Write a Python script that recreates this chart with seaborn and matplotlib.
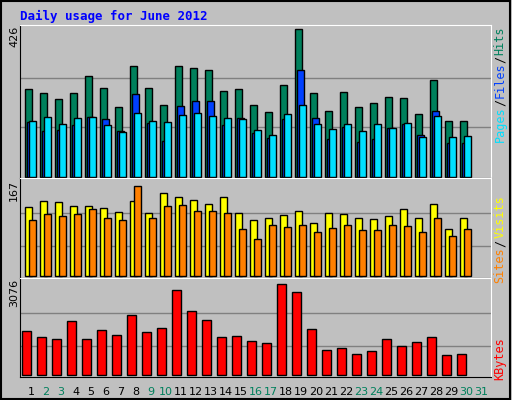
import numpy as np
import matplotlib
matplotlib.use("Agg")
import matplotlib.pyplot as plt
import seaborn as sns

days = list(range(1, 32))
hits = [253, 241, 224, 241, 291, 256, 201, 320, 256, 207, 320, 314, 308, 247, 253, 207,
        186, 265, 426, 241, 189, 244, 201, 213, 230, 227, 181, 279, 160, 160, 0]
files = [158, 131, 135, 150, 171, 166, 131, 239, 156, 102, 204, 218, 218, 150, 170, 127,
         111, 167, 308, 170, 108, 144, 99, 109, 141, 153, 120, 189, 97, 97, 0]
pages = [160, 172, 152, 169, 172, 149, 128, 184, 160, 157, 178, 184, 175, 169, 166, 134,
         120, 181, 207, 152, 137, 152, 131, 152, 140, 155, 114, 175, 114, 117, 0]
visits = [128, 139, 137, 130, 130, 126, 119, 139, 117, 154, 148, 141, 135, 148, 117, 104,
          108, 113, 122, 98, 117, 115, 108, 106, 111, 124, 108, 135, 87, 108, 0]
sites = [104, 115, 111, 115, 124, 109, 104, 167, 108, 130, 132, 121, 121, 117, 87, 69,
         95, 91, 95, 83, 89, 96, 85, 85, 95, 93, 82, 108, 74, 87, 0]
kbytes = [1488, 1285, 1217, 1826, 1217, 1521, 1352, 2029, 1454, 1589, 2874, 2164, 1860,
          1285, 1319, 1150, 1082, 3076, 2806, 1555, 845, 913, 710, 811, 1217, 980, 1116,
          1285, 676, 710, 0]
weekend = [2, 3, 9, 10, 16, 17, 23, 24, 30, 31]

sns.set_style("white")
mono = "DejaVu Sans Mono"
bg = "#c0c0c0"

fig = plt.figure(figsize=(5.12, 4.0), dpi=100, facecolor=bg)
fig.patches.append(plt.Rectangle((0.002, 0.003), 0.994, 0.994, transform=fig.transFigure,
                                 fill=False, edgecolor="black", linewidth=1.5))

L, W = 20 / 512, 471 / 512
ax1 = fig.add_axes([L, 1 - 178 / 400, W, 153 / 400])
ax2 = fig.add_axes([L, 1 - 278 / 400, W, 100 / 400])
ax3 = fig.add_axes([L, 1 - 377 / 400, W, 99 / 400])

x = np.array(days, dtype=float)
bw = 0.49
ec = dict(edgecolor="black", linewidth=1, align="edge")


def bars(ax, vals, off, color):
    # skip days with no data so no flat outline is drawn
    v = np.array(vals, dtype=float)
    m = v > 0
    ax.bar(x[m] + off, v[m], width=bw, color=color, **ec)


bars(ax1, hits, 0, "#00805c")
bars(ax1, files, 0.13, "#0040ff")
bars(ax1, pages, 0.27, "#00e0ff")
ax1.set_ylim(-3.7, 437.5)
for g in (142, 284):
    ax1.axhline(g, color="#808080", linewidth=1, zorder=0)

bars(ax2, visits, 0, "#ffff00")
bars(ax2, sites, 0.27, "#ff8000")
ax2.set_ylim(-3.2, 182.4)
for g in (56, 117):
    ax2.axhline(g, color="#808080", linewidth=1, zorder=0)

kb = np.array(kbytes, dtype=float)
mk = kb > 0
sns.barplot(x=x[mk] + 0.07, y=kb[mk], native_scale=True, width=0.6, color="#ff0000",
            saturation=1, edgecolor="black", linewidth=1, ax=ax3)
ax3.set_ylim(-57, 3289)
for g in (980, 2096):
    ax3.axhline(g, color="#808080", linewidth=1, zorder=0)

for ax in (ax1, ax2, ax3):
    ax.set_facecolor(bg)
    ax.set_xlim(0.667, 32.07)
    ax.set_xticks([])
    ax.set_yticks([])
    ax.set_xlabel("")
    for s in ("left", "bottom"):
        ax.spines[s].set_color("black")
    for s in ("top", "right"):
        ax.spines[s].set_color("white")

for d in days:
    col = "#00805c" if d in weekend else "black"
    ax3.text(d + 0.4, -0.1, str(d), transform=ax3.get_xaxis_transform(), ha="center",
             va="top", fontsize=8, color=col, family="DejaVu Sans")

fig.text(20 / 512, 1 - 16 / 400, "Daily usage for June 2012", color="#0000ff",
         family=mono, fontweight="bold", fontsize=9, va="center")


def vtext(s, xpx, ypx, color, size=8.5, fam=mono, weight="normal"):
    fig.text(xpx / 512, 1 - ypx / 400, s, rotation=90, color=color, family=fam,
             fontsize=size, fontweight=weight, ha="center", va="center")


vtext("426", 14, 36, "black", 8, "DejaVu Sans")
vtext("167", 14, 190, "black", 8, "DejaVu Sans")
vtext("3076", 14, 293, "black", 8, "DejaVu Sans")

vtext("Pages", 500, 124, "#00e0ff")
vtext("/", 500, 102, "black")
vtext("Files", 500, 80, "#0040ff")
vtext("/", 500, 59, "black")
vtext("Hits", 500, 41, "#00805c")
vtext("Sites", 500, 265, "#ff8000")
vtext("/", 500, 243, "black")
vtext("Visits", 500, 217, "#ffff00")
vtext("KBytes", 500, 359, "#ff0000")

fig.savefig("out.png", dpi=100, facecolor=bg)
